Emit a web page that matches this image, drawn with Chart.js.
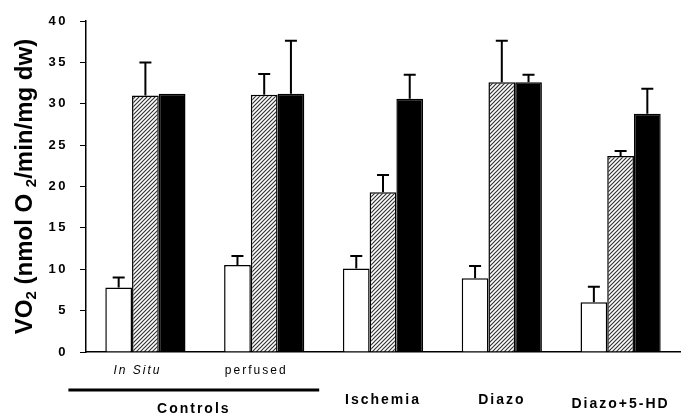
<!DOCTYPE html>
<html>
<head>
<meta charset="utf-8">
<script src="https://cdn.jsdelivr.net/npm/chart.js@4.4.1/dist/chart.umd.min.js"></script>
<style>
  html, body { margin: 0; padding: 0; background: #fff; }
  #wrap { width: 682px; height: 416px; position: relative; }
</style>
</head>
<body>
<div id="wrap"><canvas id="vo2Chart"></canvas></div>
<script>
// Data
const categories = ['In Situ', 'perfused', 'Ischemia', 'Diazo', 'Diazo+5-HD'];
const controlsLabel = 'Controls';
const whiteValues = [7.8, 10.5, 10.1, 8.9, 6.0];
const whiteErrors = [1.2, 1.1, 1.5, 1.5, 1.9];
const hatchedValues = [31.0, 31.1, 19.3, 32.6, 23.7];
const hatchedErrors = [4.0, 2.5, 2.1, 5.0, 0.6];
const blackValues = [31.2, 31.2, 30.6, 32.6, 28.8];
const blackErrors = [0, 6.4, 2.9, 0.9, 3.0];
const yTicks = [0, 5, 10, 15, 20, 25, 30, 35, 40];

const FONT = "'Liberation Sans', Arial, sans-serif";

// diagonal hatch fill
function makeHatch() {
    const c = document.createElement('canvas');
    c.width = 4;
    c.height = 4;
    const g = c.getContext('2d');
    g.fillStyle = '#fff';
    g.fillRect(0, 0, 4, 4);
    g.strokeStyle = '#333';
    g.lineWidth = 1.2;
    g.beginPath();
    g.moveTo(-1, 5); g.lineTo(5, -1);
    g.moveTo(-1, 1); g.lineTo(1, -1);
    g.moveTo(3, 5); g.lineTo(5, 3);
    g.stroke();
    return g.createPattern(c, 'repeat');
}

const errorsByDataset = [whiteErrors, hatchedErrors, blackErrors];

// Error bars (upper only, with cap)
const errorBarPlugin = {
    id: 'errorBars',
    afterDatasetsDraw(chart) {
        const ctx = chart.ctx;
        const y = chart.scales.y;
        ctx.save();
        ctx.strokeStyle = '#000';
        ctx.lineWidth = 2;
        chart.data.datasets.forEach((ds, di) => {
            const meta = chart.getDatasetMeta(di);
            meta.data.forEach((bar, i) => {
                const err = errorsByDataset[di][i];
                if (!err) return;
                const top = y.getPixelForValue(ds.data[i] + err);
                ctx.beginPath();
                ctx.moveTo(bar.x, bar.y);
                ctx.lineTo(bar.x, top);
                ctx.moveTo(bar.x - 6, top);
                ctx.lineTo(bar.x + 6, top);
                ctx.stroke();
            });
        });
        ctx.restore();
    },
};

// Letter spacing for the tick labels
const spacingPlugin = {
    id: 'spacing',
    beforeDraw(chart) {
        chart.ctx.letterSpacing = '2.5px';
    },
};

// Category labels, Controls bracket, y title with subscripts
const labelPlugin = {
    id: 'labels',
    afterDraw(chart) {
        const ctx = chart.ctx;
        const x = chart.scales.x;
        ctx.save();
        ctx.fillStyle = '#000';
        ctx.textAlign = 'center';
        ctx.textBaseline = 'middle';

        categories.forEach((label, i) => {
            const px = x.getPixelForValue(i);
            if (i < 2) {
                ctx.letterSpacing = '2px';
                ctx.font = (i === 0 ? 'italic ' : '') + '12px ' + FONT;
                ctx.fillText(label, px - 8, 371);
            } else {
                ctx.letterSpacing = '2px';
                ctx.font = 'bold 14px ' + FONT;
                ctx.fillText(label, px, i === 4 ? 404 : 400);
            }
        });

        const x0 = x.getPixelForValue(0) - 77;
        const x1 = x.getPixelForValue(1) + 55;
        ctx.strokeStyle = '#000';
        ctx.lineWidth = 3;
        ctx.beginPath();
        ctx.moveTo(x0, 390);
        ctx.lineTo(x1, 390);
        ctx.stroke();
        ctx.letterSpacing = '2px';
        ctx.font = 'bold 14px ' + FONT;
        ctx.fillText(controlsLabel, (x0 + x1) / 2, 409);

        // y title
        const parts = [
            ['VO', false], ['2', true], [' (nmol O ', false], ['2', true], ['/min/mg dw)', false],
        ];
        const big = 'bold 24px ' + FONT;
        const small = 'bold 15px ' + FONT;
        ctx.letterSpacing = '0px';
        let total = 0;
        parts.forEach(([t, sub]) => {
            ctx.font = sub ? small : big;
            total += ctx.measureText(t).width;
        });
        const cy = (chart.chartArea.top + chart.chartArea.bottom) / 2;
        ctx.translate(23, cy);
        ctx.rotate(-Math.PI / 2);
        ctx.textAlign = 'left';
        ctx.textBaseline = 'alphabetic';
        let pos = -total / 2;
        parts.forEach(([t, sub]) => {
            ctx.font = sub ? small : big;
            ctx.fillText(t, pos, sub ? 13 : 9);
            pos += ctx.measureText(t).width;
        });
        ctx.restore();
    },
};

function initChart() {
    const ctx = document.getElementById('vo2Chart');
    const hatch = makeHatch();

    new Chart(ctx, {
        type: 'bar',
        data: {
            labels: categories,
            datasets: [
                {
                    label: 'white',
                    data: whiteValues,
                    backgroundColor: '#fff',
                    borderColor: '#000',
                    borderWidth: 1.5,
                },
                {
                    label: 'hatched',
                    data: hatchedValues,
                    backgroundColor: hatch,
                    borderColor: '#000',
                    borderWidth: 1.5,
                },
                {
                    label: 'black',
                    data: blackValues,
                    backgroundColor: '#000',
                    borderColor: '#000',
                    borderWidth: 1.5,
                },
            ],
        },
        options: {
            responsive: true,
            maintainAspectRatio: false,
            animation: false,
            categoryPercentage: 0.675,
            barPercentage: 1,
            layout: {
                padding: { top: 21, right: 2, bottom: 56, left: 0 },
            },
            plugins: {
                legend: { display: false },
                tooltip: { enabled: false },
            },
            scales: {
                x: {
                    grid: { display: false },
                    ticks: { display: false },
                    border: { display: true, color: '#000', width: 1.5 },
                },
                y: {
                    min: 0,
                    max: 40,
                    afterFit(scale) {
                        scale.width = 86;
                    },
                    afterBuildTicks(scale) {
                        scale.ticks = yTicks.map(v => ({ value: v }));
                    },
                    grid: {
                        drawOnChartArea: false,
                        drawTicks: true,
                        tickLength: 6,
                        color: '#000',
                        lineWidth: 1,
                    },
                    border: { display: true, color: '#000', width: 1.5 },
                    ticks: {
                        color: '#000',
                        padding: 12,
                        font: { family: FONT, size: 13, weight: 'bold' },
                    },
                },
            },
        },
        plugins: [spacingPlugin, errorBarPlugin, labelPlugin],
    });
}

initChart();
</script>
</body>
</html>
